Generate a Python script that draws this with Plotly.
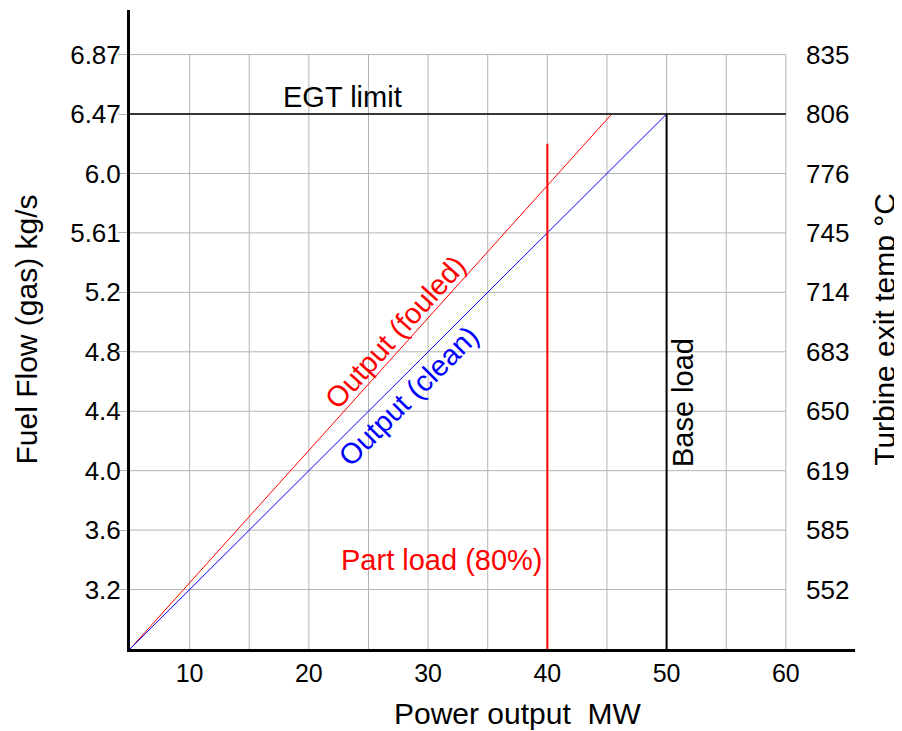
import plotly.graph_objects as go

# ---- data ----
x_grid = [10, 15, 20, 25, 30, 35, 40, 45, 50, 55, 60]
x_ticks = [10, 20, 30, 40, 50, 60]
y_pos = [3.2, 3.6, 4.0, 4.4, 4.8, 5.2, 5.6, 6.0, 6.4, 6.8]
fuel_labels = ["3.2", "3.6", "4.0", "4.4", "4.8", "5.2", "5.61", "6.0", "6.47", "6.87"]
temp_labels = ["552", "585", "619", "650", "683", "714", "745", "776", "806", "835"]

clean_x = [5, 50]
clean_y = [2.8, 6.4]
fouled_x = [5, 45.4]
fouled_y = [2.8, 6.4]
egt_x = [5, 60]
egt_y = [6.4, 6.4]
base_x = [50, 50]
base_y = [2.8, 6.4]
part_x = [40, 40]
part_y = [2.8, 6.2]

X0, X1 = 5, 65.8
Y0, Y1 = 2.8, 7.1
FONT = "Liberation Sans, Arial, sans-serif"
GRID = "#b4b4b4"

fig = go.Figure()

# gridlines (limited region)
shapes = []
for gx in x_grid:
    shapes.append(dict(type="line", xref="x", yref="y", x0=gx, x1=gx, y0=Y0, y1=y_pos[-1],
                       line=dict(color=GRID, width=1), layer="below"))
for gy in y_pos:
    shapes.append(dict(type="line", xref="x", yref="y", x0=X0, x1=x_grid[-1], y0=gy, y1=gy,
                       line=dict(color=GRID, width=1), layer="below"))

fig.add_trace(go.Scatter(x=fouled_x, y=fouled_y, mode="lines", line=dict(color="#ff0000", width=1),
                         hoverinfo="skip", showlegend=False))
fig.add_trace(go.Scatter(x=clean_x, y=clean_y, mode="lines", line=dict(color="#0000ff", width=1),
                         hoverinfo="skip", showlegend=False))
fig.add_trace(go.Scatter(x=egt_x, y=egt_y, mode="lines", line=dict(color="#000000", width=1.5),
                         hoverinfo="skip", showlegend=False))
fig.add_trace(go.Scatter(x=base_x, y=base_y, mode="lines", line=dict(color="#000000", width=2),
                         hoverinfo="skip", showlegend=False))
fig.add_trace(go.Scatter(x=part_x, y=part_y, mode="lines", line=dict(color="#ff0000", width=2),
                         hoverinfo="skip", showlegend=False))
# invisible trace for the right axis
fig.add_trace(go.Scatter(x=[X0], y=[Y0], yaxis="y2", mode="markers", marker=dict(opacity=0),
                         hoverinfo="skip", showlegend=False))

ann_font = dict(family=FONT, size=29)
annotations = [
    dict(x=22.8, y=6.515, text="EGT limit", font=dict(ann_font, color="#000000")),
    dict(x=27.28, y=4.93, text="Output (fouled)", textangle=-48, font=dict(ann_font, color="#ff0000")),
    dict(x=28.37, y=4.50, text="Output (clean)", textangle=-45, font=dict(ann_font, color="#0000ff")),
    dict(x=51.44, y=4.46, text="Base load", textangle=-90, font=dict(ann_font, color="#000000")),
    dict(x=31.14, y=3.40, text="Part load (80%)", font=dict(ann_font, color="#ff0000")),
]
for a in annotations:
    a.update(xref="x", yref="y", showarrow=False, xanchor="center", yanchor="middle")
# x-axis title (placed slightly right of the axis centre, as in the original)
annotations.append(dict(xref="paper", yref="paper", x=0.534, y=-0.1017, xanchor="center",
                        yanchor="middle", showarrow=False, text="Power output\u00a0 MW",
                        font=dict(family=FONT, size=30, color="#000000")))

# the page body adds an 8px margin, so the figure is sized/offset to compensate
fig.update_layout(
    width=894, height=723,
    margin=dict(l=122, r=47, t=2, b=82),
    paper_bgcolor="white", plot_bgcolor="white",
    font=dict(family=FONT, color="#000000"),
    shapes=shapes,
    annotations=annotations,
    xaxis=dict(range=[X0, X1], tickvals=x_ticks, ticktext=[str(v) for v in x_ticks],
               showgrid=False, zeroline=False, showline=True, linecolor="#000000", linewidth=3,
               ticks="", tickfont=dict(size=25), automargin=False),
    yaxis=dict(range=[Y0, Y1], tickvals=y_pos, ticktext=fuel_labels,
               showgrid=False, zeroline=False, showline=True, linecolor="#000000", linewidth=3,
               ticks="outside", ticklen=9, tickcolor=GRID, tickwidth=1, tickfont=dict(size=26),
               ticklabelstandoff=-8, automargin=False,
               title=dict(text="Fuel Flow (gas) kg/s", font=dict(size=30), standoff=24)),
    yaxis2=dict(range=[Y0, Y1], tickvals=y_pos, ticktext=temp_labels, overlaying="y",
                anchor="free", position=0.931, side="right", automargin=False,
                showgrid=False, zeroline=False, showline=False, ticks="", tickfont=dict(size=26),
                title=dict(text="Turbine exit temp °C", font=dict(size=30), standoff=25)),
)

fig.write_html("out.html")
